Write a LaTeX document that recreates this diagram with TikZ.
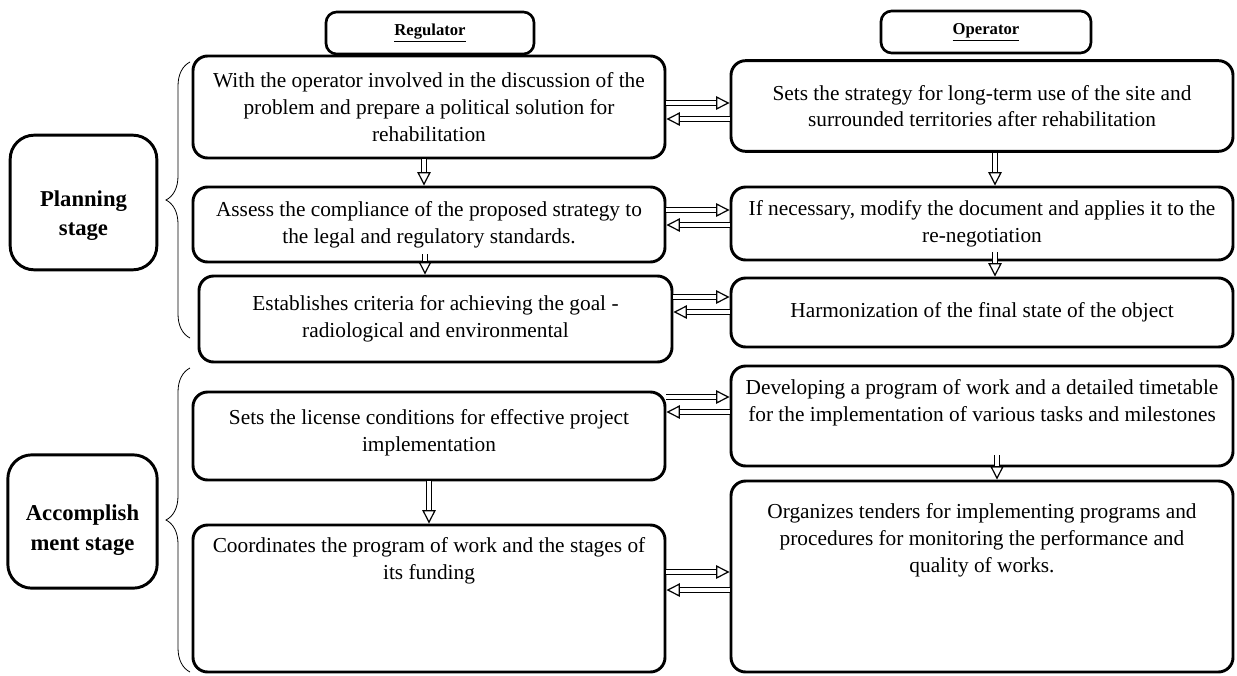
\documentclass[tikz,border=0pt]{standalone}
\usepackage{fontspec}
\setmainfont{Liberation Serif}
\usetikzlibrary{shapes.geometric, arrows.meta, positioning, decorations.pathreplacing}
\tikzstyle{box} = [rectangle, rounded corners=11pt, line width=2.2pt, draw=black, inner sep=0pt, align=center, font=\fontsize{16}{20}\selectfont]
\tikzstyle{txt} = [inner sep=0pt, align=center, font=\fontsize{16}{20}\selectfont]
\tikzstyle{head} = [rectangle, rounded corners=8pt, line width=2pt, draw=black, font=\bfseries\fontsize{12.5}{15}\selectfont]
\tikzstyle{stagebox} = [rectangle, rounded corners=18pt, line width=2.2pt, draw=black]
\tikzstyle{stagetxt} = [inner sep=0pt, align=center, font=\bfseries\fontsize{17}{22}\selectfont]
\tikzstyle{arrow} = [double, double distance=2.4pt, line width=0.9pt, -{Triangle[open, length=10pt, width=10pt]}]
\tikzstyle{brace} = [decorate, decoration={brace, amplitude=18pt, aspect=0.5}, line width=0.6pt]

\begin{document}
\begin{tikzpicture}[x=0.75pt, y=-0.75pt]
    \useasboundingbox (0,0) rectangle (1237,675);

    % column heads
    \node (hreg) [head, minimum width=156pt, minimum height=31.5pt] at (430,33) {\underline{Regulator}};
    \node (hop) [head, minimum width=157.5pt, minimum height=31.5pt] at (986,32) {\underline{Operator}};

    % stages
    \node (plan) [stagebox, minimum width=110pt, minimum height=101pt] at (83.5,202.5) {};
    \node (plantxt) [stagetxt] at ([yshift=-10pt]plan.center) {Planning\\ stage};
    \node (acc) [stagebox, minimum width=112pt, minimum height=100pt] at (82.5,521.5) {};
    \node (acctxt) [stagetxt] at ([yshift=-6.5pt]acc.center) {Accomplish\\ ment stage};
    \draw [brace] (190,338) -- (190,62);
    \draw [brace] (190,672) -- (190,368);

    % planning stage
    \node (reg1) [box, minimum width=354pt, minimum height=76.5pt] at (429,107) {With the operator involved in the discussion of the\\ problem and prepare a political solution for\\ rehabilitation};
    \node (op1) [box, minimum width=376.5pt, minimum height=68pt] at (982,106) {Sets the strategy for long-term use of the site and\\ surrounded territories after rehabilitation};
    \node (reg2) [box, minimum width=354pt, minimum height=56.25pt] at (429,224.5) {Assess the compliance of the proposed strategy to\\ the legal and regulatory standards.};
    \node (op2) [box, minimum width=376.5pt, minimum height=54.75pt] at (982,223.5) {If necessary, modify the document and applies it to the\\ re-negotiation};
    \node (reg3) [box, minimum width=354.75pt, minimum height=64.5pt] at (435.5,319) {Establishes criteria for achieving the goal -\\ radiological and environmental};
    \node (op3) [box, minimum width=376.5pt, minimum height=51.75pt] at (982,312.5) {Harmonization of the final state of the object};

    % accomplishment stage
    \node (op4) [box, minimum width=376.5pt, minimum height=75pt] at (982,416) {};
    \node (op4txt) [txt, below=11pt of op4.north] {Developing a program of work and a detailed timetable\\ for the implementation of various tasks and milestones};
    \node (reg4) [box, minimum width=354pt, minimum height=66pt] at (429,436) {};
    \node (reg4txt) [txt, below=14pt of reg4.north] {Sets the license conditions for effective project\\ implementation};
    \node (reg5) [box, minimum width=354pt, minimum height=110.25pt] at (429,598.5) {};
    \node (reg5txt) [txt, below=10.5pt of reg5.north] {Coordinates the program of work and the stages of\\ its funding};
    \node (op5) [box, minimum width=376.5pt, minimum height=143.25pt] at (982,576.5) {};
    \node (op5txt) [txt, below=18pt of op5.north] {Organizes tenders for implementing programs and\\ procedures for monitoring the performance and\\ quality of works.};

    % arrows between columns
    \draw [arrow] (reg1.east |- 0,103) -- (op1.west |- 0,103);
    \draw [arrow] (op1.west |- 0,119) -- (reg1.east |- 0,119);
    \draw [arrow] (reg2.east |- 0,210) -- (op2.west |- 0,210);
    \draw [arrow] (op2.west |- 0,225) -- (reg2.east |- 0,225);
    \draw [arrow] (reg3.east |- 0,297) -- (op3.west |- 0,297);
    \draw [arrow] (op3.west |- 0,312) -- (reg3.east |- 0,312);
    \draw [arrow] (reg4.east |- 0,397) -- (op4.west |- 0,397);
    \draw [arrow] (op4.west |- 0,412) -- (reg4.east |- 0,412);
    \draw [arrow] (reg5.east |- 0,572) -- (op5.west |- 0,572);
    \draw [arrow] (op5.west |- 0,590) -- (reg5.east |- 0,590);

    % arrows down the columns
    \draw [arrow] (reg1.south -| 424,0) -- (reg2.north -| 424,0);
    \draw [arrow] ([yshift=7pt]reg2.south -| 425,0) -- (reg3.north -| 425,0);
    \draw [arrow] (op1.south -| 995,0) -- (op2.north -| 995,0);
    \draw [arrow] ([yshift=7pt]op2.south -| 995,0) -- (op3.north -| 995,0);
    \draw [arrow] ([yshift=9pt]op4.south -| 997,0) -- (op5.north -| 997,0);
    \draw [arrow] (reg4.south -| 429,0) -- (reg5.north -| 429,0);
\end{tikzpicture}
\end{document}
